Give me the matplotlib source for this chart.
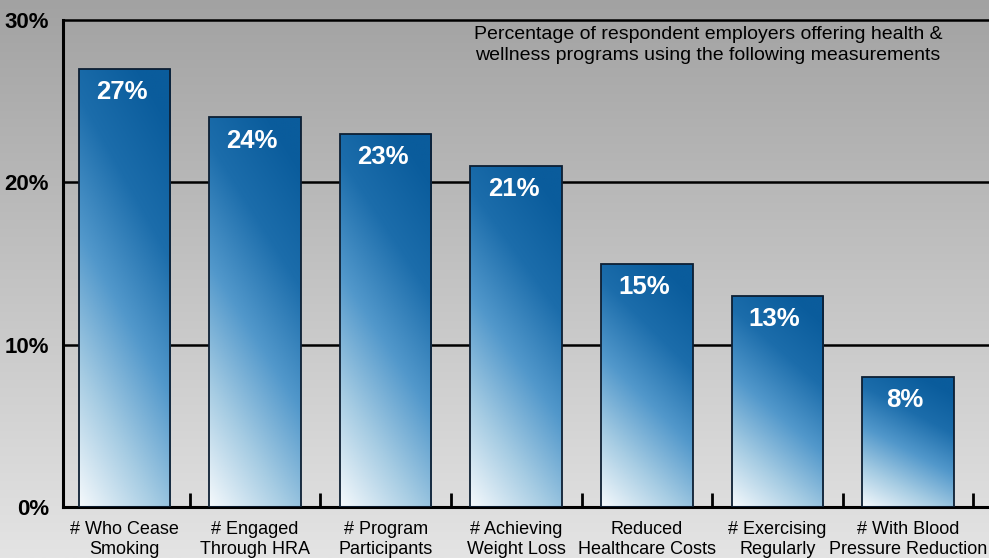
# bar chart: wellness program measurements

import numpy as np
import matplotlib.pyplot as plt
from matplotlib.colors import LinearSegmentedColormap
from matplotlib.patches import Rectangle

categories = [
    "# Who Cease\nSmoking",
    "# Engaged\nThrough HRA",
    "# Program\nParticipants",
    "# Achieving\nWeight Loss",
    "Reduced\nHealthcare Costs",
    "# Exercising\nRegularly",
    "# With Blood\nPressure Reduction",
]
values = [27, 24, 23, 21, 15, 13, 8]
yticks = [0, 10, 20, 30]
note = ("Percentage of respondent employers offering health &\n"
        "wellness programs using the following measurements")

plt.rcParams["font.family"] = ["Liberation Sans", "DejaVu Sans"]

fig = plt.figure(figsize=(9.89, 5.58), dpi=100)

# grey background gradient
bg = fig.add_axes([0, 0, 1, 1], zorder=0)
grad = np.linspace(0, 1, 256).reshape(-1, 1)
bg_cmap = LinearSegmentedColormap.from_list("bg", ["#a2a2a2", "#e4e4e4"])
bg.imshow(grad, aspect="auto", cmap=bg_cmap, extent=[0, 1, 0, 1], origin="upper")
bg.axis("off")

ax = fig.add_axes([63 / 989, 51 / 558, 1 - 63 / 989, 487 / 558], zorder=1)
ax.set_facecolor("none")

x = np.arange(len(values))

for y in yticks[1:]:
    ax.axhline(y, color="black", lw=1.8, zorder=1, clip_on=False)

# bar gradient: light bottom-left, dark blue top-right
bar_cmap = LinearSegmentedColormap.from_list(
    "bar", ["#f5f9fc", "#a6cce3", "#5298cb", "#1c6dab", "#0a5c9c"])
n = 200
u, v = np.meshgrid(np.linspace(0, 1, n), np.linspace(0, 1, n))
t = np.clip(0.8 * v + 0.3 * u, 0, 1)

width = 0.70
bars = ax.bar(x, values, width=width, color="none", edgecolor="#0d1f33", lw=1.3, zorder=3)
for b in bars:
    x0, y0 = b.get_x(), b.get_y()
    w, h = b.get_width(), b.get_height()
    im = ax.imshow(t, cmap=bar_cmap, origin="lower", aspect="auto",
                   extent=[x0, x0 + w, y0, y0 + h], zorder=2)
    im.set_clip_path(Rectangle((x0, y0), w, h, transform=ax.transData))

ax.set_xlim(-0.47, 6.62)
ax.set_ylim(0, 30)

for xi, val in zip(x, values):
    ax.annotate(f"{val}%", (xi, val), xytext=(-2, -8), textcoords="offset points",
                ha="center", va="top", color="white", fontsize=18.5,
                fontweight="bold", zorder=4)

# boundary ticks
ax.set_xticks(np.arange(len(values)) + 0.5)
ax.set_xticklabels([])
ax.tick_params(axis="x", which="major", direction="in", length=10, width=2, color="black")
ax.set_xticks(x, minor=True)
ax.set_xticklabels(categories, minor=True, fontsize=13, linespacing=1.25)
ax.tick_params(axis="x", which="minor", length=0, pad=10)

ax.set_yticks(yticks)
ax.set_yticklabels([f"{v}%" for v in yticks], fontsize=16, fontweight="bold")
ax.tick_params(axis="y", length=0, pad=10)

for s in ["top", "right"]:
    ax.spines[s].set_visible(False)
ax.spines["left"].set_linewidth(2.2)
ax.spines["bottom"].set_linewidth(2.2)

fig.text(708 / 989, 1 - 26 / 558, note, ha="center", va="top", fontsize=14,
         linespacing=1.3, zorder=5)

fig.savefig("out.png", dpi=100)
